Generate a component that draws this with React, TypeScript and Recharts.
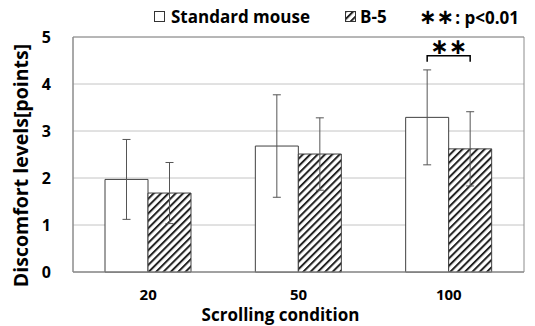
import { BarChart, Bar, XAxis, YAxis, CartesianGrid, ErrorBar, ReferenceArea, LabelList } from "recharts";

const conditions = ["20", "50", "100"];
const standardMean = [1.97, 2.68, 3.29];
const standardSd = [0.85, 1.09, 1.01];
const b5Mean = [1.68, 2.51, 2.62];
const b5Sd = [0.65, 0.77, 0.79];
const yTicks = [0, 1, 2, 3, 4, 5];
const bracketLevel = 4.6;

const data = conditions.map((c, i) => ({
  name: c,
  standard: standardMean[i],
  standardErr: standardSd[i],
  b5: b5Mean[i],
  b5Err: b5Sd[i],
}));

const FONT = "'Open Sans', sans-serif";

const XTick = (props: any) => {
  const {x, y, payload} = props;
  return (
    <text x={x} y={y + 20} textAnchor="middle" fontFamily={FONT} fontWeight="bold" fontSize={15} fill="#000">
      {payload.value}
    </text>
  );
};

const YTick = (props: any) => {
  const {x, y, payload} = props;
  return (
    <text x={x - 14} y={y + 6} textAnchor="end" fontFamily={FONT} fontWeight="bold" fontSize={16} fill="#000">
      {payload.value}
    </text>
  );
};

const XLabel = (props: any) => {
  const {viewBox} = props;
  const cx = viewBox.x + viewBox.width / 2 - 18;
  return (
    <text x={cx} y={viewBox.y + 49} textAnchor="middle" fontFamily={FONT} fontWeight="bold" fontSize={17} fill="#000">
      Scrolling condition
    </text>
  );
};

const YLabel = (props: any) => {
  const {viewBox} = props;
  const cx = 28;
  const cy = viewBox.y + viewBox.height / 2 + 11;
  return (
    <text x={cx} y={cy} transform={`rotate(-90 ${cx} ${cy})`} textAnchor="middle" fontFamily={FONT} fontWeight="bold" fontSize={19.5} fill="#000">
      Discomfort levels[points]
    </text>
  );
};

// bracket + stars over the "100" pair, drawn from the bar geometry
const Bracket = (props: any) => {
  const {x, y, width, height, value, index} = props;
  if (index !== 2) return null;
  const unit = height / value;
  const base = y + height;
  const by = base - bracketLevel * unit;
  const x1 = x + width / 2;
  const x2 = x + width * 1.5;
  return (
    <g>
      <path d={`M${x1},${by + 6} L${x1},${by} L${x2},${by} L${x2},${by + 6}`} fill="none" stroke="#000" strokeWidth={1.5} />
      <text x={(x1 + x2) / 2} y={by - 2} textAnchor="middle" fontFamily="DejaVu Sans" fontWeight="bold" fontSize={22} fill="#000">
        ∗∗
      </text>
    </g>
  );
};

const App = () => {
  return (
    <div style={{position: "fixed", left: 0, top: 0, width: 535, height: 326, background: "#fff"}}>
      <div style={{position: "absolute", left: 0, top: 5, width: 535, height: 24, fontFamily: FONT, fontWeight: "bold", fontSize: 17, color: "#000", whiteSpace: "nowrap"}}>
        <span style={{position: "absolute", left: 154, top: 0, display: "flex", alignItems: "center"}}>
          <span style={{display: "inline-block", width: 9, height: 9, border: "1px solid #333", marginRight: 6, background: "#fff"}} />
          Standard mouse
        </span>
        <span style={{position: "absolute", left: 345, top: 0, display: "flex", alignItems: "center"}}>
          <svg width={11} height={11} style={{marginRight: 4}}>
            <rect x={0.5} y={0.5} width={10} height={10} fill="url(#hatch)" stroke="#333" />
          </svg>
          B-5
        </span>
        <span style={{position: "absolute", left: 419, top: 0, display: "flex", alignItems: "center"}}>
          <span style={{fontFamily: "DejaVu Sans", fontSize: 21, marginRight: 1}}>∗∗</span>: p&lt;0.01
        </span>
      </div>
      <BarChart width={535} height={326} data={data} margin={{top: 37, right: 11, bottom: 0, left: 0}} barGap={0} barSize={43}>
        <defs>
          <pattern id="hatch" patternUnits="userSpaceOnUse" width={5.2} height={5.2} patternTransform="rotate(45)">
            <rect x={0} y={0} width={5.2} height={5.2} fill="#fff" />
            <rect x={0} y={0} width={2} height={5.2} fill="#222" />
          </pattern>
        </defs>
        <CartesianGrid vertical={false} stroke="#c4c4c4" />
        <ReferenceArea y1={0} y2={5} fill="none" stroke="#8c8c8c" ifOverflow="visible" />
        <XAxis
          dataKey="name"
          height={54}
          tickLine={false}
          axisLine={{stroke: "#8c8c8c"}}
          tick={<XTick />}
          label={<XLabel />}
        />
        <YAxis
          domain={[0, 5]}
          ticks={yTicks}
          width={73}
          tickLine={false}
          axisLine={{stroke: "#8c8c8c"}}
          tick={<YTick />}
          label={<YLabel />}
        />
        <Bar dataKey="standard" fill="#fff" stroke="#404040" strokeWidth={1} isAnimationActive={false}>
          <ErrorBar dataKey="standardErr" width={4} stroke="#555" strokeWidth={1} />
          <LabelList dataKey="standard" content={<Bracket />} />
        </Bar>
        <Bar dataKey="b5" fill="url(#hatch)" stroke="#404040" strokeWidth={1} isAnimationActive={false}>
          <ErrorBar dataKey="b5Err" width={4} stroke="#555" strokeWidth={1} />
        </Bar>
      </BarChart>
    </div>
  );
};

export default App;
